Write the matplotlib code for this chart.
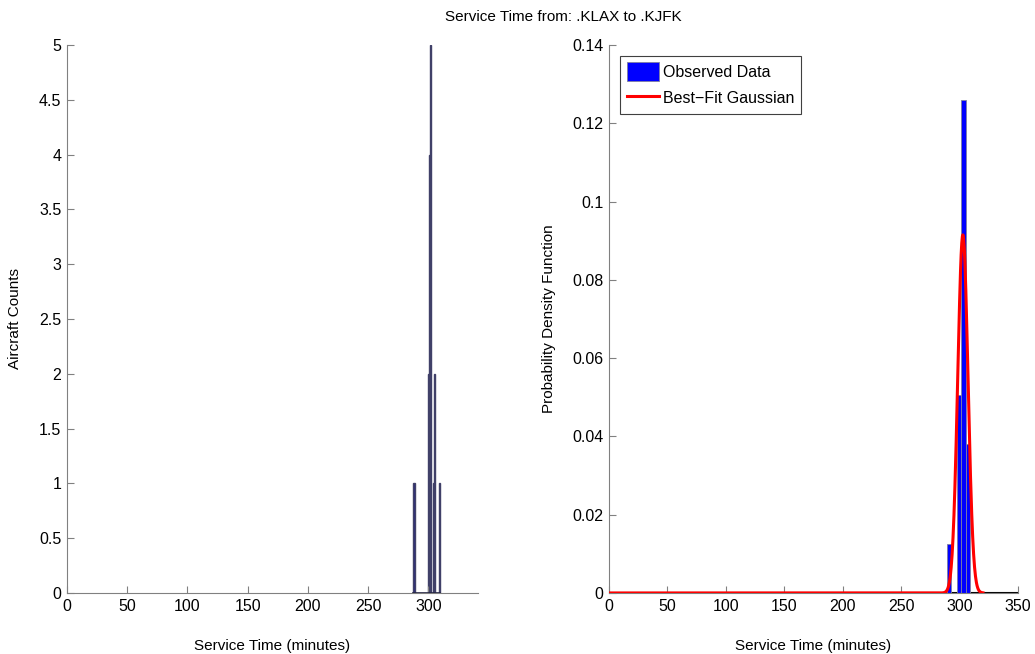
import numpy as np
import matplotlib
matplotlib.use("Agg")
import matplotlib.pyplot as plt

plt.rcParams['font.family'] = ['Liberation Sans', 'DejaVu Sans']

# left panel: aircraft counts per service time (minutes)
count_times = [288, 300, 301, 302, 304, 305, 309]
counts = [1, 2, 4, 5, 1, 2, 1]

# right panel: normalised histogram
pdf_centers = [290.8, 299.5, 303.5, 307.3]
pdf_values = [0.0126, 0.0505, 0.126, 0.038]
pdf_width = 3.8

# fitted gaussian
mu = 302.8
sigma = 4.36

fig = plt.figure(figsize=(10.35, 6.54), dpi=100)
ax1 = fig.add_axes([0.0647, 0.0933, 0.397, 0.838])
ax2 = fig.add_axes([0.5884, 0.0933, 0.3952, 0.838])

ax1.bar(count_times, counts, width=1.0, color='#2a2a80', edgecolor='#404068', linewidth=1.0)
ax1.plot([287.5, 309.5], [0, 0], color='#202040', lw=1.2)
ax1.set_xlim(0, 341)
ax1.set_ylim(0, 5)
ax1.set_xticks(np.arange(0, 301, 50))
ax1.set_yticks(np.arange(0, 5.01, 0.5))
ax1.set_yticklabels(['0', '0.5', '1', '1.5', '2', '2.5', '3', '3.5', '4', '4.5', '5'])
ax1.set_xlabel("Service Time (minutes)", fontsize=11, labelpad=18)
ax1.set_ylabel("Aircraft Counts", fontsize=11, labelpad=12)

ax2.axhline(0, color='black', lw=1.5, zorder=1)
bars = ax2.bar(pdf_centers, pdf_values, width=pdf_width, color='#0000ff', edgecolor='#8080a0',
               linewidth=0.6, zorder=2)
xg = np.linspace(0, 320, 1200)
yg = np.exp(-0.5 * ((xg - mu) / sigma) ** 2) / (sigma * np.sqrt(2 * np.pi))
line, = ax2.plot(xg, yg, color='red', lw=2.2, zorder=3)
ax2.set_xlim(0, 350)
ax2.set_ylim(0, 0.14)
ax2.set_xticks(np.arange(0, 351, 50))
ax2.set_yticks(np.arange(0, 0.141, 0.02))
ax2.set_yticklabels(['0', '0.02', '0.04', '0.06', '0.08', '0.1', '0.12', '0.14'])
ax2.set_xlabel("Service Time (minutes)", fontsize=11, labelpad=18)
ax2.set_ylabel("Probability Density Function", fontsize=11, labelpad=12)
leg = ax2.legend([bars, line], ['Observed Data', 'Best\u2212Fit Gaussian'],
                 loc='upper left', fontsize=11.5, fancybox=False, framealpha=1,
                 edgecolor='#404040', borderaxespad=0.7, handlelength=2.0,
                 handleheight=1.4, handletextpad=0.3, borderpad=0.4)
leg.get_frame().set_linewidth(0.8)

for ax in (ax1, ax2):
    ax.spines['top'].set_visible(False)
    ax.spines['right'].set_visible(False)
    ax.spines['left'].set_color('#808080')
    ax.spines['bottom'].set_color('#808080')
    ax.tick_params(direction='in', length=5, color='#808080', labelsize=11.5, pad=4)

fig.suptitle("Service Time from: .KLAX to .KJFK", fontsize=11, x=0.544, y=0.985)

fig.savefig("out.png", dpi=100)
